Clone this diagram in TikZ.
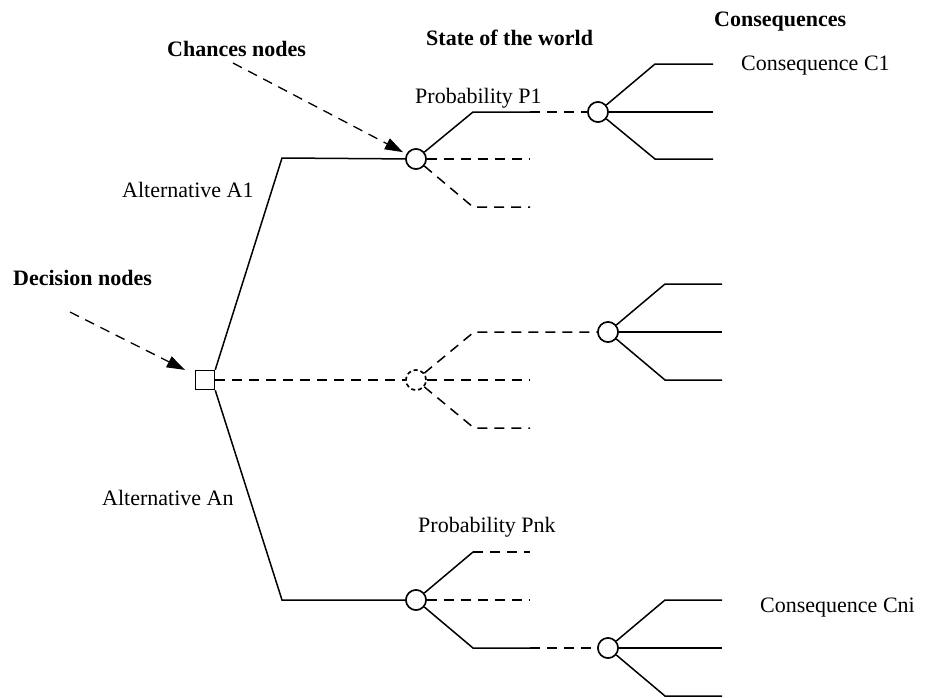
\documentclass[tikz,border=0pt]{standalone}
\usepackage{fontspec}
\setmainfont{Liberation Serif}
\usetikzlibrary{arrows.meta}

\begin{document}
\begin{tikzpicture}[x=1pt,y=-1pt,
  link/.style={line width=1.5pt, line join=miter},
  dlink/.style={link, dash pattern=on 10pt off 7pt},
  chance/.style={circle, draw, line width=1.5pt, minimum size=20pt, inner sep=0pt, fill=white},
  dchance/.style={chance, dash pattern=on 4pt off 3pt},
  decision/.style={rectangle, draw, line width=1.5pt, minimum size=19pt, inner sep=0pt, fill=white},
  txt/.style={font=\fontsize{22}{26}\selectfont, anchor=base west, inner sep=0pt},
  heading/.style={txt, font=\fontsize{22}{26}\selectfont\bfseries},
  pointer/.style={line width=1.3pt, dash pattern=on 10pt off 7pt, -{Triangle[length=18pt,width=12pt]}},
]
\useasboundingbox (0,0) rectangle (935,697);

% decision and chance nodes
\node[decision] (dec) at (205,380) {};
\node[chance]  (ch1) at (416,159) {};
\node[dchance] (ch2) at (416,380) {};
\node[chance]  (ch3) at (416,600) {};
\node[chance]  (cq1) at (598,112) {};
\node[chance]  (cq2) at (608,332) {};
\node[chance]  (cq3) at (608,648) {};

% bend and end points
\coordinate (a1) at (282,158);
\coordinate (an) at (282,600);
\coordinate (p1a) at (473,112);  \coordinate (p1b) at (530,112);
\coordinate (p1m) at (530,159);
\coordinate (p1c) at (473,207);  \coordinate (p1d) at (530,207);
\coordinate (p2a) at (474,332);
\coordinate (p2m) at (530,380);
\coordinate (p2c) at (474,428);  \coordinate (p2d) at (530,428);
\coordinate (p3a) at (473,552);  \coordinate (p3b) at (530,552);
\coordinate (p3m) at (530,600);
\coordinate (p3c) at (473,648);  \coordinate (p3d) at (530,648);

\coordinate (c1a) at (655,64);  \coordinate (c1b) at (713,64);
\coordinate (c1m) at (713,112);
\coordinate (c1c) at (655,159); \coordinate (c1d) at (713,159);
\coordinate (c2a) at (665,284); \coordinate (c2b) at (722,284);
\coordinate (c2m) at (722,332);
\coordinate (c2c) at (665,380); \coordinate (c2d) at (722,380);
\coordinate (c3a) at (665,600); \coordinate (c3b) at (722,600);
\coordinate (c3m) at (722,648);
\coordinate (c3c) at (665,696); \coordinate (c3d) at (722,696);

\coordinate (cnote) at (233,63);
\coordinate (dnote) at (70,312);

% alternatives
\draw[link] (dec.north east) -- (a1) -- (ch1);
\draw[dlink] (dec.east) -- (ch2);
\draw[link] (dec.south east) -- (an) -- (ch3);

% states of the world, first alternative
\draw[link] (ch1) -- (p1a) -- (p1b);
\draw[dlink] (p1b) -- (cq1);
\draw[dlink] (ch1) -- (p1m);
\draw[dlink] (ch1) -- (p1c) -- (p1d);

% states of the world, middle alternative
\draw[dlink] (ch2) -- (p2a) -- (cq2);
\draw[dlink] (ch2) -- (p2m);
\draw[dlink] (ch2) -- (p2c) -- (p2d);

% states of the world, last alternative
\draw[link] (ch3) -- (p3a);
\draw[dlink] (p3a) -- (p3b);
\draw[dlink] (ch3) -- (p3m);
\draw[link] (ch3) -- (p3c) -- (p3d);
\draw[dlink] (p3d) -- (cq3);

% consequences
\draw[link] (cq1) -- (c1a) -- (c1b);
\draw[link] (cq1) -- (c1m);
\draw[link] (cq1) -- (c1c) -- (c1d);
\draw[link] (cq2) -- (c2a) -- (c2b);
\draw[link] (cq2) -- (c2m);
\draw[link] (cq2) -- (c2c) -- (c2d);
\draw[link] (cq3) -- (c3a) -- (c3b);
\draw[link] (cq3) -- (c3m);
\draw[link] (cq3) -- (c3c) -- (c3d);

% redraw node outlines above the branches
\node[chance]  at (ch1) {};
\node[dchance] at (ch2) {};
\node[chance]  at (ch3) {};
\node[chance]  at (cq1) {};
\node[chance]  at (cq2) {};
\node[chance]  at (cq3) {};
\node[decision] at (dec) {};

% pointers
\draw[pointer, shorten >=4pt] (cnote) -- (ch1);
\draw[pointer, shorten >=11pt] (dnote) -- (dec);

% labels
\node[heading] (tchance) at (167,56) {Chances nodes};
\node[heading] (tstate) at (426,45) {State of the world};
\node[heading] (tcons) at (714,26) {Consequences};
\node[heading] (tdec) at (13,285) {Decision nodes};
\node[txt] (tc1) at (741,70) {Consequence C1};
\node[txt] (tp1) at (415,103) {Probability P1};
\node[txt] (ta1) at (122,197) {Alternative A1};
\node[txt] (tan) at (102,505) {Alternative An};
\node[txt] (tpnk) at (418,532) {Probability Pnk};
\node[txt] (tcni) at (760,612) {Consequence Cni};
\end{tikzpicture}
\end{document}
